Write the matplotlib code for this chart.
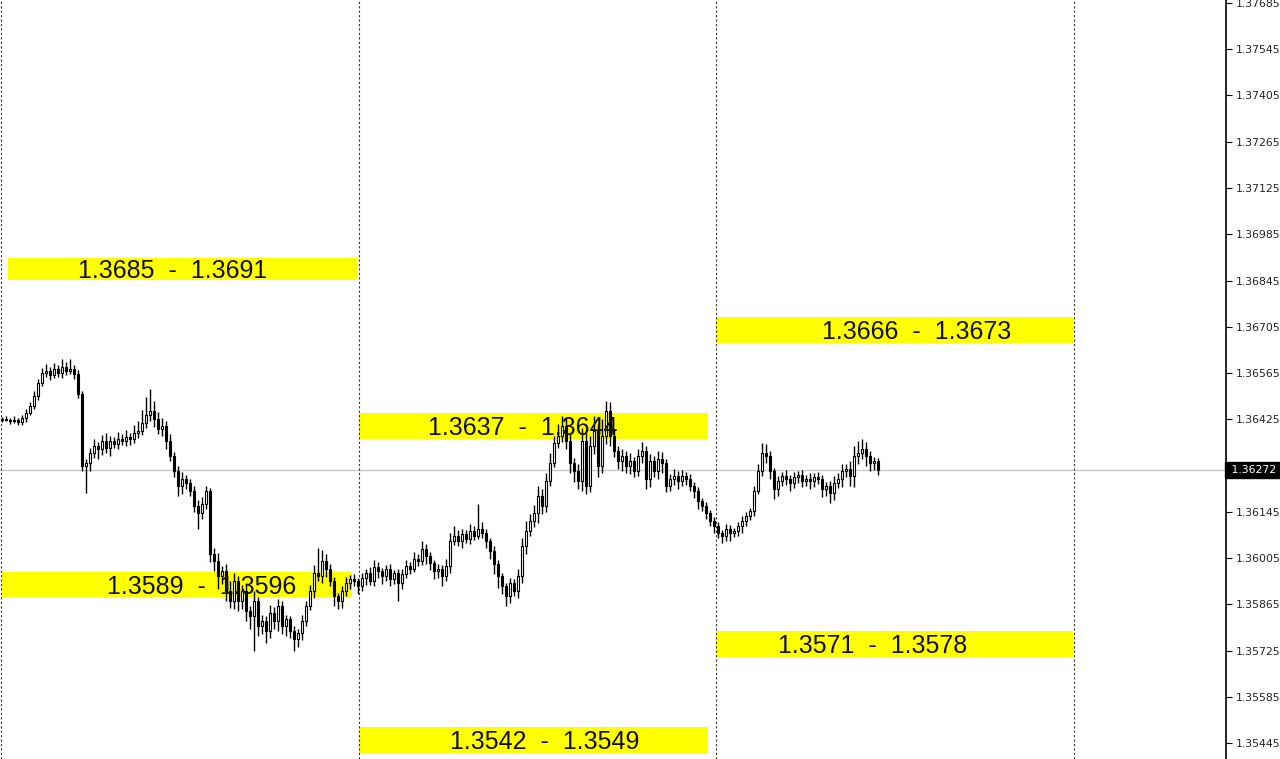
import numpy as np
import matplotlib
matplotlib.use("Agg")
from matplotlib import pyplot as plt

# close prices, one per candle
closes = [
    1.36427, 1.36424, 1.36420, 1.36424, 1.36417, 1.36430, 1.36445, 1.36466, 1.36496, 1.36536,
    1.36566, 1.36572, 1.36560, 1.36578, 1.36566, 1.36584, 1.36572, 1.36578, 1.36563, 1.36502,
    1.36284, 1.36293, 1.36324, 1.36345, 1.36336, 1.36360, 1.36339, 1.36360, 1.36351, 1.36366,
    1.36360, 1.36372, 1.36366, 1.36384, 1.36390, 1.36414, 1.36439, 1.36451, 1.36427, 1.36396,
    1.36405, 1.36360, 1.36314, 1.36269, 1.36224, 1.36245, 1.36233, 1.36208, 1.36163, 1.36142,
    1.36169, 1.36208, 1.36017, 1.35996, 1.35951, 1.35966, 1.35905, 1.35875, 1.35936, 1.35875,
    1.35905, 1.35845, 1.35830, 1.35875, 1.35799, 1.35814, 1.35784, 1.35839, 1.35814, 1.35860,
    1.35799, 1.35820, 1.35784, 1.35760, 1.35778, 1.35814, 1.35860, 1.35905, 1.35960, 1.35951,
    1.35996, 1.35972, 1.35936, 1.35890, 1.35875, 1.35905, 1.35930, 1.35942, 1.35936, 1.35921,
    1.35945, 1.35960, 1.35936, 1.35978, 1.35966, 1.35951, 1.35972, 1.35942, 1.35960, 1.35930,
    1.35957, 1.35981, 1.35972, 1.36002, 1.35996, 1.36033, 1.36011, 1.35990, 1.35966, 1.35972,
    1.35951, 1.35981, 1.36057, 1.36072, 1.36057, 1.36078, 1.36063, 1.36087, 1.36072, 1.36093,
    1.36081, 1.36057, 1.36027, 1.35987, 1.35951, 1.35921, 1.35890, 1.35930, 1.35905, 1.35951,
    1.36042, 1.36087, 1.36118, 1.36142, 1.36193, 1.36163, 1.36239, 1.36293, 1.36354, 1.36375,
    1.36405, 1.36360, 1.36293, 1.36269, 1.36239, 1.36360, 1.36224, 1.36345, 1.36390, 1.36284,
    1.36375, 1.36451, 1.36375, 1.36330, 1.36299, 1.36314, 1.36284, 1.36299, 1.36269, 1.36314,
    1.36330, 1.36245, 1.36299, 1.36269, 1.36305, 1.36293, 1.36224, 1.36245, 1.36254, 1.36239,
    1.36254, 1.36245, 1.36224, 1.36208, 1.36178, 1.36163, 1.36142, 1.36118, 1.36102, 1.36081,
    1.36072, 1.36093, 1.36081, 1.36087, 1.36102, 1.36118, 1.36133, 1.36148, 1.36208, 1.36269,
    1.36324, 1.36314, 1.36269, 1.36214, 1.36239, 1.36254, 1.36245, 1.36233, 1.36251, 1.36257,
    1.36239, 1.36245, 1.36239, 1.36251, 1.36245, 1.36214, 1.36224, 1.36202, 1.36233, 1.36245,
    1.36269, 1.36275, 1.36254, 1.36314, 1.36324, 1.36336, 1.36314, 1.36293, 1.36299, 1.36272,
]
first_open = 1.36424

# wick lengths above / below the body, in points (0.00001)
wick_up = [
    6, 8, 5, 10, 6, 8, 10, 12, 15, 12,
    15, 20, 10, 18, 12, 25, 15, 30, 12, 10,
    8, 12, 15, 20, 10, 18, 25, 15, 12, 20,
    15, 20, 12, 25, 30, 40, 55, 67, 30, 20,
    25, 15, 20, 12, 15, 20, 10, 12, 15, 18,
    20, 15, 10, 20, 25, 15, 20, 30, 25, 15,
    20, 25, 15, 30, 12, 20, 15, 25, 18, 20,
    15, 12, 10, 15, 12, 20, 15, 20, 25, 75,
    35, 20, 15, 12, 10, 15, 18, 12, 15, 10,
    15, 12, 18, 20, 15, 10, 12, 15, 10, 12,
    15, 18, 12, 20, 15, 25, 15, 12, 10, 15,
    12, 20, 25, 30, 18, 15, 12, 20, 15, 75,
    20, 12, 10, 15, 12, 10, 8, 15, 12, 20,
    25, 30, 20, 25, 30, 20, 25, 30, 20, 35,
    30, 25, 20, 15, 20, 40, 25, 30, 45, 20,
    50, 30, 25, 20, 15, 20, 15, 25, 12, 20,
    25, 15, 20, 15, 25, 20, 12, 15, 20, 15,
    18, 12, 15, 10, 12, 10, 12, 8, 10, 12,
    10, 15, 12, 10, 12, 15, 12, 10, 15, 20,
    30, 25, 15, 10, 15, 12, 18, 12, 15, 12,
    15, 12, 18, 12, 15, 10, 12, 15, 20, 18,
    20, 15, 25, 30, 35, 30, 20, 15, 12, 10,
]
wick_dn = [
    8, 5, 10, 6, 8, 10, 12, 8, 10, 12,
    10, 12, 15, 10, 12, 15, 12, 10, 15, 12,
    15, 82, 25, 15, 30, 20, 15, 25, 12, 15,
    12, 15, 20, 12, 15, 12, 15, 20, 25, 15,
    20, 25, 15, 20, 30, 25, 20, 15, 20, 48,
    20, 15, 25, 30, 40, 25, 30, 20, 25, 30,
    25, 30, 40, 106, 30, 25, 35, 20, 25, 30,
    25, 30, 20, 36, 25, 20, 15, 12, 20, 15,
    20, 25, 15, 30, 25, 20, 15, 20, 15, 25,
    15, 20, 12, 15, 20, 25, 15, 20, 15, 55,
    20, 12, 15, 10, 15, 12, 25, 20, 25, 20,
    30, 15, 20, 12, 15, 20, 12, 15, 12, 10,
    15, 20, 25, 30, 35, 25, 30, 20, 15, 20,
    20, 25, 15, 20, 30, 25, 20, 15, 12, 15,
    20, 25, 30, 35, 25, 30, 25, 20, 25, 35,
    20, 25, 30, 20, 25, 30, 20, 25, 20, 15,
    20, 30, 25, 20, 25, 30, 20, 15, 20, 25,
    15, 20, 15, 20, 25, 15, 20, 15, 20, 15,
    20, 15, 25, 12, 15, 20, 15, 12, 15, 10,
    15, 20, 25, 30, 20, 15, 20, 25, 15, 20,
    20, 15, 25, 20, 15, 25, 20, 30, 20, 15,
    25, 20, 30, 35, 25, 20, 30, 25, 20, 15,
]

# support / resistance zones
zone_lo = [1.3685, 1.3589, 1.3637, 1.3542, 1.3666, 1.3571]
zone_hi = [1.3691, 1.3596, 1.3644, 1.3549, 1.3673, 1.3578]
zone_x0 = [1.5, 0.0, 89.25, 89.25, 178.5, 178.5]
zone_x1 = [88.75, 87.5, 176.5, 176.5, 267.75, 267.75]
zone_tx = [42.75, 50.0, 130.25, 135.75, 228.75, 217.75]

separators = [-0.25, 89.25, 178.5, 268.0]
last_price = 1.36272
yticks = [1.37685, 1.37545, 1.37405, 1.37265, 1.37125, 1.36985, 1.36845, 1.36705,
          1.36565, 1.36425, 1.36285, 1.36145, 1.36005, 1.35865, 1.35725, 1.35585, 1.35445]

closes = np.array(closes)
opens = np.concatenate([[first_open], closes[:-1]])
highs = np.maximum(opens, closes) + np.array(wick_up) * 1e-5
lows = np.minimum(opens, closes) - np.array(wick_dn) * 1e-5
x = np.arange(len(closes))

fig = plt.figure(figsize=(12.8, 7.59), dpi=100)
ax = fig.add_axes([0, 0, 1226 / 1280, 1])
ax.set_xlim(-0.5, 306)
ax.set_ylim(1.35397, 1.37694)

# zones (drawn a touch wider than the quoted range, like the terminal does)
pad = 0.00004
for lo, hi, x0, x1, tx in zip(zone_lo, zone_hi, zone_x0, zone_x1, zone_tx):
    ax.fill_between([x0, x1], lo - pad, hi + pad, color="#ffff00", lw=0, zorder=1)
    ax.text(tx, (lo + hi) / 2 - 0.00006, "%.4f  -  %.4f" % (lo, hi), ha="center",
            va="center", fontsize=18, family="Liberation Sans", color="#111111", zorder=4)

# period separators
for s in separators:
    ax.axvline(s, color="#333333", lw=0.8, ls=(0, (2, 2)), zorder=2)

ax.axhline(last_price, color="#c8c8c8", lw=1, zorder=1.5)

# candles
up = closes >= opens
ax.vlines(x, lows, highs, color="black", lw=1.0, zorder=3)
body = np.abs(closes - opens)
body = np.maximum(body, 0.00002)
ax.bar(x[up], body[up], bottom=opens[up], width=0.72, color="white",
       edgecolor="black", lw=0.8, zorder=3.5)
ax.bar(x[~up], body[~up], bottom=closes[~up], width=0.72, color="black",
       edgecolor="black", lw=0.8, zorder=3.5)

# axis styling
for side in ["top", "left", "bottom"]:
    ax.spines[side].set_visible(False)
ax.spines["right"].set_linewidth(1.2)
ax.set_xticks([])
ax.yaxis.tick_right()
ax.set_yticks(yticks)
ax.set_yticklabels(["%.5f" % t for t in yticks])
ax.tick_params(axis="y", direction="out", length=4, width=0.8, pad=3,
               labelsize=7.8, labelcolor="#222222")

ax.text(1.002, last_price, " %.5f " % last_price, transform=ax.get_yaxis_transform(),
        ha="left", va="center", fontsize=7.8, color="white", zorder=10,
        bbox=dict(boxstyle="square,pad=0.3", fc="black", ec="black"), clip_on=False)

fig.savefig("out.png", dpi=100)
